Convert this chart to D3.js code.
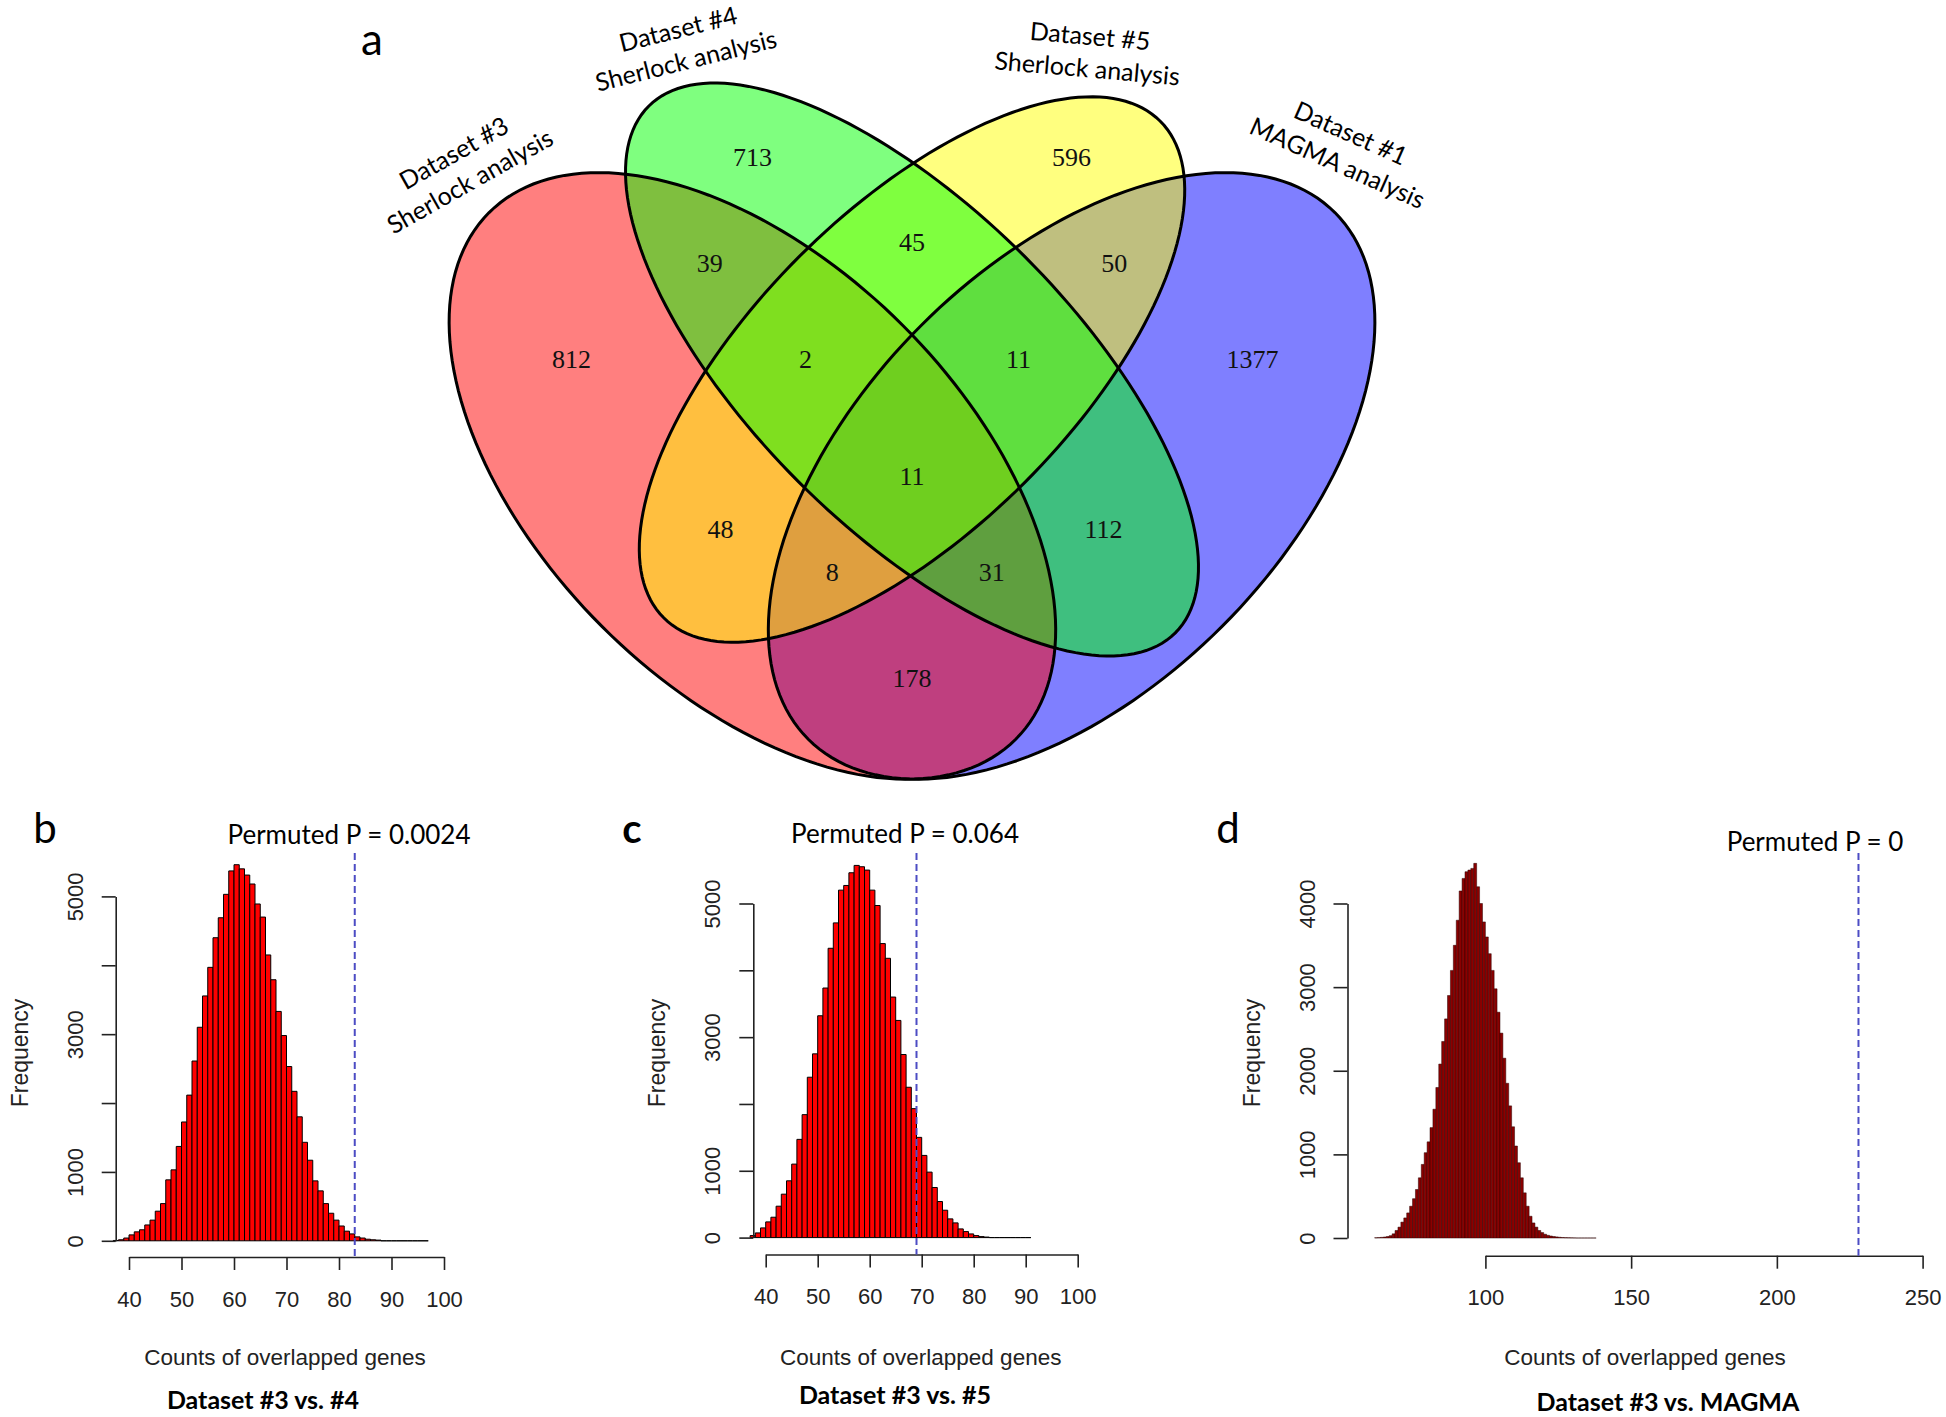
<!DOCTYPE html>
<html>
<head>
<meta charset="utf-8">
<script src="https://cdnjs.cloudflare.com/ajax/libs/d3/7.8.5/d3.min.js"></script>
<style>
  body { margin: 0; background: #fff; }
</style>
</head>
<body>
<div id="chart"></div>
<script>
var svgWidth = 1946;
var svgHeight = 1417;

// ================================ venn data
var setNames = ["Dataset #3", "Dataset #4", "Dataset #5", "Dataset #1"];
var setMethods = ["Sherlock analysis", "Sherlock analysis", "Sherlock analysis", "MAGMA analysis"];
var setColors = ["#ff0000", "#00ff00", "#ffff00", "#0000ff"];

// ellipses in unit coords (quad layout)
var ellipseX = [0.35, 0.50, 0.50, 0.65];
var ellipseY = [0.47, 0.57, 0.57, 0.47];
var ellipseA = [0.35, 0.35, 0.33, 0.35];
var ellipseB = [0.20, 0.15, 0.15, 0.20];
var ellipseRot = [135, 135, 45, 45];

// counts of every region
var regionCounts = [812, 713, 596, 1377, 39, 45, 50, 2, 11, 11, 48, 112, 8, 31, 178];

// ================================ permutation histograms (bins of width 1)
var binStartB = 37;
var countsB = [5, 15, 40, 86, 130, 160, 230, 300, 430, 540, 885, 1030, 1370, 1725, 2115, 2610,
  3100, 3555, 3970, 4400, 4690, 5030, 5370, 5460, 5400, 5310, 5180, 4890, 4700, 4150, 3790,
  3330, 2980, 2530, 2170, 1800, 1430, 1170, 870, 725, 540, 400, 300, 215, 140, 100, 57, 40,
  23, 15, 10, 0, 0, 0, 0, 0, 0, 0, 0, 0];

var binStartC = 37;
var countsC = [30, 70, 145, 235, 305, 470, 650, 850, 1100, 1470, 1840, 2400, 2750, 3320, 3735,
  4330, 4710, 5200, 5270, 5460, 5570, 5550, 5500, 5200, 4970, 4400, 4180, 3600, 3250, 2740,
  2250, 1930, 1500, 1230, 980, 750, 540, 410, 280, 220, 130, 90, 55, 30, 15, 8, 0, 0, 0, 0,
  0, 0, 0, 0];

var binStartD = 62;
var countsD = [3, 5, 8, 12, 18, 28, 50, 90, 130, 190, 240, 300, 380, 470, 580, 720, 880, 1020,
  1150, 1320, 1540, 1800, 2080, 2350, 2620, 2900, 3200, 3500, 3800, 4150, 4300, 4380, 4400,
  4420, 4480, 4200, 4000, 3780, 3600, 3400, 3200, 2980, 2700, 2450, 2150, 1850, 1580, 1330,
  1100, 900, 720, 540, 380, 260, 180, 130, 90, 65, 45, 32, 24, 18, 13, 9, 6, 4, 3, 2, 1,
  0, 0, 0, 0, 0, 0, 0];

var observed = [83, 69, 228];
var pTexts = ["Permuted P = 0.0024", "Permuted P = 0.064", "Permuted P = 0"];
var panelTitles = ["Dataset #3 vs. #4", "Dataset #3 vs. #5", "Dataset #3 vs. MAGMA"];

var xTicksBC = [40, 50, 60, 70, 80, 90, 100];
var xTicksD = [100, 150, 200, 250];
var yTicksBC = [0, 1000, 2000, 3000, 4000, 5000];
var yLabelsBC = [0, 1000, 3000, 5000];
var yTicksD = [0, 1000, 2000, 3000, 4000];
var yLabelsD = [0, 1000, 2000, 3000, 4000];

// ================================ layout
var serif = "'Liberation Serif', 'Times New Roman', serif";
var rSans = "'Liberation Sans', Arial, sans-serif";
var calib = "Lato, 'Open Sans', sans-serif";

// venn region label spots (unit coords)
var regionX = [0.18, 0.35, 0.65, 0.82, 0.31, 0.50, 0.69, 0.40, 0.60, 0.50, 0.32, 0.68, 0.425, 0.575, 0.50];
var regionY = [0.58, 0.77, 0.77, 0.58, 0.67, 0.69, 0.67, 0.58, 0.58, 0.47, 0.42, 0.42, 0.38, 0.38, 0.28];
var catX = [0.077, 0.284, 0.666, 0.906];
var catY = [0.760, 0.875, 0.868, 0.778];
var catAngle = [-29.5, -14, 5, 24];
var drawOrder = [3, 0, 2, 1]; // blue, red, yellow, green

var svg = d3.select("#chart")
  .append("svg")
  .attr("width", svgWidth)
  .attr("height", svgHeight);

svg.append("rect")
  .attr("width", svgWidth)
  .attr("height", svgHeight)
  .attr("fill", "white");

// ================================ venn
var xV = d3.scaleLinear().domain([0, 1]).range([380, 1444]);
var yV = d3.scaleLinear().domain([0, 1]).range([976, -88]);

function ellipsePoints(i) {
  var th = ellipseRot[i] * Math.PI / 180;
  return d3.range(0, 361, 2).map(function (deg) {
    var t = deg * Math.PI / 180;
    var ux = ellipseX[i] + ellipseA[i] * Math.cos(t) * Math.cos(th) - ellipseB[i] * Math.sin(t) * Math.sin(th);
    var uy = ellipseY[i] + ellipseA[i] * Math.cos(t) * Math.sin(th) + ellipseB[i] * Math.sin(t) * Math.cos(th);
    return [xV(ux), yV(uy)];
  });
}

var ellLine = d3.line().curve(d3.curveLinearClosed);
var venn = svg.append("g");

venn.selectAll(".fill")
  .data(drawOrder)
  .enter()
  .append("path")
  .attr("class", "fill")
  .attr("d", d => ellLine(ellipsePoints(d)))
  .attr("fill", d => setColors[d])
  .attr("fill-opacity", 0.5)
  .attr("stroke", "none");

venn.selectAll(".outline")
  .data(drawOrder)
  .enter()
  .append("path")
  .attr("class", "outline")
  .attr("d", d => ellLine(ellipsePoints(d)))
  .attr("fill", "none")
  .attr("stroke", "black")
  .attr("stroke-width", 3);

venn.selectAll(".count")
  .data(regionCounts)
  .enter()
  .append("text")
  .attr("class", "count")
  .attr("x", (d, i) => xV(regionX[i]))
  .attr("y", (d, i) => yV(regionY[i]))
  .attr("dy", "0.35em")
  .attr("text-anchor", "middle")
  .style("font-family", serif)
  .style("font-size", "26px")
  .attr("fill", "#111")
  .text(d => d);

var cats = venn.selectAll(".cat")
  .data(setNames)
  .enter()
  .append("g")
  .attr("class", "cat")
  .attr("transform", (d, i) => `translate(${xV(catX[i])},${yV(catY[i])}) rotate(${catAngle[i]})`);

cats.append("text")
  .attr("text-anchor", "middle")
  .attr("dy", "-0.3em")
  .style("font-family", calib)
  .style("font-size", "25px")
  .text(d => d);

cats.append("text")
  .attr("text-anchor", "middle")
  .attr("dy", "1.0em")
  .style("font-family", calib)
  .style("font-size", "25px")
  .text((d, i) => setMethods[i]);

svg.append("text")
  .attr("x", 372)
  .attr("y", 55)
  .attr("text-anchor", "middle")
  .style("font-family", calib)
  .style("font-size", "44px")
  .text("a");

// ================================ histograms
var panels = [
  { letter: "b", bold: false, letterX: 45, start: binStartB, counts: countsB, fill: "#ff0000", barStroke: 1, barLine: "#000",
    xDomain: [40, 100], xRange: [129, 444], yDomain: [0, 5000], yRange: [1240.8, 896.4],
    xTicks: xTicksBC, yTicks: yTicksBC, yLabels: yLabelsBC,
    yAxisX: 115.7, xAxisY: 1257, pX: 349, pY: 844, xlabX: 285, titleX: 263, titleY: 1400 },
  { letter: "c", bold: true, letterX: 632, start: binStartC, counts: countsC, fill: "#ff0000", barStroke: 1, barLine: "#000",
    xDomain: [40, 100], xRange: [765.7, 1077.7], yDomain: [0, 5000], yRange: [1237.6, 903.5],
    xTicks: xTicksBC, yTicks: yTicksBC, yLabels: yLabelsBC,
    yAxisX: 753.3, xAxisY: 1254.5, pX: 905, pY: 842.5, xlabX: 920.7, titleX: 895, titleY: 1395 },
  { letter: "d", bold: false, letterX: 1228, start: binStartD, counts: countsD, fill: "#8b0000", barStroke: 0.5, barLine: "#2a0000",
    xDomain: [100, 250], xRange: [1485.4, 1922.6], yDomain: [0, 4000], yRange: [1238, 903.5],
    xTicks: xTicksD, yTicks: yTicksD, yLabels: yLabelsD,
    yAxisX: 1347.5, xAxisY: 1255.7, pX: 1815, pY: 851, xlabX: 1645, titleX: 1668, titleY: 1402 }
];

panels.forEach(function (p, k) {
  var xs = d3.scaleLinear().domain(p.xDomain).range(p.xRange);
  var ys = d3.scaleLinear().domain(p.yDomain).range(p.yRange);
  var g = svg.append("g");

  // bars, one per bin (paths so that empty bins still show as a flat line)
  g.selectAll(".bar")
    .data(p.counts)
    .enter()
    .append("path")
    .attr("class", "bar")
    .attr("d", function (d, i) {
      var x0 = xs(p.start + i), x1 = xs(p.start + i + 1);
      return `M${x0},${ys(0)}V${ys(d)}H${x1}V${ys(0)}Z`;
    })
    .attr("fill", p.fill)
    .attr("stroke", p.barLine)
    .attr("stroke-width", p.barStroke);

  // y axis
  var yAxis = d3.axisLeft(ys)
    .tickValues(p.yTicks)
    .tickSize(14)
    .tickSizeOuter(0)
    .tickFormat(d => p.yLabels.indexOf(d) >= 0 ? d : "");

  var ya = g.append("g")
    .attr("transform", `translate(${p.yAxisX},0)`)
    .attr("color", "#222")
    .call(yAxis);
  ya.selectAll("path, line").attr("stroke-width", 1.6);
  ya.selectAll("text")
    .attr("x", 0)
    .attr("dy", 0)
    .attr("text-anchor", "middle")
    .attr("transform", "translate(-33,0) rotate(-90)")
    .style("font-family", rSans)
    .style("font-size", "22px")
    .attr("fill", "#222");

  // x axis
  var xAxis = d3.axisBottom(xs)
    .tickValues(p.xTicks)
    .tickSize(13)
    .tickSizeOuter(0)
    .tickPadding(21);

  var xa = g.append("g")
    .attr("transform", `translate(0,${p.xAxisY})`)
    .attr("color", "#222")
    .call(xAxis);
  xa.selectAll("path, line").attr("stroke-width", 1.6);
  xa.selectAll("text")
    .style("font-family", rSans)
    .style("font-size", "22px")
    .attr("fill", "#222");

  // observed overlap
  g.append("line")
    .attr("x1", xs(observed[k]))
    .attr("x2", xs(observed[k]))
    .attr("y1", 853)
    .attr("y2", p.xAxisY)
    .attr("stroke", "#4c4cc4")
    .attr("stroke-width", 2)
    .attr("stroke-dasharray", "7,4");

  g.append("text")
    .attr("x", p.pX)
    .attr("y", p.pY)
    .attr("text-anchor", "middle")
    .style("font-family", calib)
    .style("font-size", "26px")
    .text(pTexts[k]);

  g.append("text")
    .attr("transform", `translate(${p.yAxisX - 88},1053) rotate(-90)`)
    .attr("text-anchor", "middle")
    .style("font-family", rSans)
    .style("font-size", "23px")
    .attr("fill", "#222")
    .text("Frequency");

  g.append("text")
    .attr("x", p.xlabX)
    .attr("y", 1357)
    .attr("dy", "0.35em")
    .attr("text-anchor", "middle")
    .style("font-family", rSans)
    .style("font-size", "22.5px")
    .attr("fill", "#222")
    .text("Counts of overlapped genes");

  g.append("text")
    .attr("x", p.titleX)
    .attr("y", p.titleY)
    .attr("dy", "0.35em")
    .attr("text-anchor", "middle")
    .style("font-family", calib)
    .style("font-size", "25px")
    .style("font-weight", "bold")
    .text(panelTitles[k]);

  g.append("text")
    .attr("x", p.letterX)
    .attr("y", 843)
    .attr("text-anchor", "middle")
    .style("font-family", calib)
    .style("font-size", p.bold ? "40px" : "42px")
    .style("font-weight", p.bold ? "bold" : "normal")
    .text(p.letter);
});
</script>
</body>
</html>
